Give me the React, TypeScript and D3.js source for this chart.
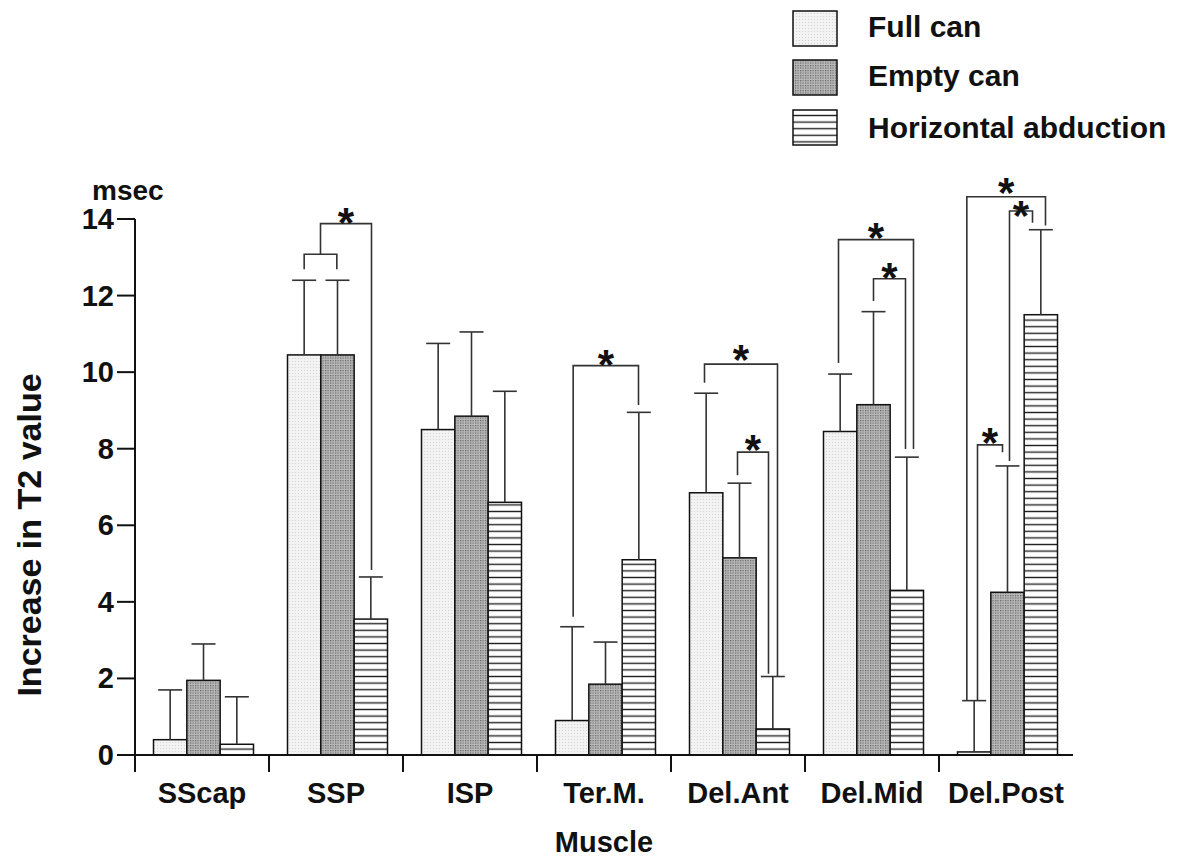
import React from "react";
import * as d3 from "d3";

const categories = ["SScap", "SSP", "ISP", "Ter.M.", "Del.Ant", "Del.Mid", "Del.Post"];
const seriesNames = ["Full can", "Empty can", "Horizontal abduction"];
const fullCan = [0.4, 10.45, 8.5, 0.9, 6.85, 8.45, 0.08];
const fullCanErr = [1.7, 12.4, 10.75, 3.35, 9.45, 9.95, 1.42];
const emptyCan = [1.95, 10.45, 8.85, 1.85, 5.15, 9.15, 4.25];
const emptyCanErr = [2.9, 12.4, 11.05, 2.95, 7.1, 11.58, 7.55];
const horizAbd = [0.28, 3.55, 6.6, 5.1, 0.68, 4.3, 11.5];
const horizAbdErr = [1.52, 4.65, 9.5, 8.95, 2.05, 7.78, 13.72];
const yTicks = [0, 2, 4, 6, 8, 10, 12, 14];

// significance brackets: category, left/right series position, top level, leg bottoms, star
const brCat = ["SSP", "SSP", "Ter.M.", "Del.Ant", "Del.Ant", "Del.Mid", "Del.Mid", "Del.Post", "Del.Post", "Del.Post"];
const brLeft = [0, 0.49, 0.03, -0.05, 0.94, -0.05, 1.0, -0.22, 1.06, 0.1];
const brRight = [0.98, 2.02, 1.99, 2.14, 1.87, 2.2, 1.96, 2.14, 1.75, 0.85];
const brTop = [13.08, 13.88, 10.17, 10.21, 7.91, 13.46, 12.44, 14.58, 14.21, 8.1];
const brLeftBottom = [12.69, 13.08, 3.61, 9.72, 7.31, 10.24, 11.86, 1.42, 7.68, 1.41];
const brRightBottom = [12.69, 4.83, 9.14, 2.06, 2.12, 7.99, 7.99, 13.83, 13.9, 7.91];
const brStarY = [null, 14.15, 10.45, 10.58, 8.23, 13.76, 12.72, 14.94, 14.34, 8.41];

const W = 1182;
const H = 860;
const FONT = "'Liberation Sans', Arial, Helvetica, sans-serif";

export default function App() {
  const x = d3.scaleBand<string>().domain(categories).range([135, 1073]).padding(0);
  const inner = d3.scaleBand<number>().domain([0, 1, 2]).range([18.5, 118.5]).padding(0);
  const y = d3.scaleLinear().domain([0, 14]).range([755, 219]);
  const barW = inner.bandwidth();
  const seriesPos = d3
    .scaleLinear()
    .domain([0, 2])
    .range([inner(0)! + barW / 2, inner(2)! + barW / 2]);

  const values = [fullCan, emptyCan, horizAbd];
  const errs = [fullCanErr, emptyCanErr, horizAbdErr];
  const fills = ["url(#pFull)", "url(#pEmpty)", "url(#pHoriz)"];

  const bars: React.ReactNode[] = [];
  const errBars: React.ReactNode[] = [];
  categories.forEach((c, ci) => {
    values.forEach((vals, si) => {
      const x0 = x(c)! + inner(si)!;
      const v = vals[ci];
      bars.push(
        <rect
          key={`b-${ci}-${si}`}
          x={x0}
          y={y(v)}
          width={barW}
          height={y(0) - y(v)}
          fill={fills[si]}
          stroke="#111"
          strokeWidth={1.5}
        />
      );
      const cx = x0 + barW / 2;
      const e = errs[si][ci];
      errBars.push(
        <g key={`e-${ci}-${si}`} stroke="#333" strokeWidth={1.6} fill="none">
          <line x1={cx} x2={cx} y1={y(v)} y2={y(e)} />
          <line x1={cx - 12} x2={cx + 12} y1={y(e)} y2={y(e)} />
        </g>
      );
    });
  });

  const brackets = brCat.map((c, i) => {
    const xl = x(c)! + seriesPos(brLeft[i]);
    const xr = x(c)! + seriesPos(brRight[i]);
    const yt = y(brTop[i]);
    const path = d3.path();
    path.moveTo(xl, y(brLeftBottom[i]));
    path.lineTo(xl, yt);
    path.lineTo(xr, yt);
    path.lineTo(xr, y(brRightBottom[i]));
    const sy = brStarY[i];
    return (
      <g key={`br-${i}`}>
        <path d={path.toString()} stroke="#333" strokeWidth={1.6} fill="none" />
        {sy !== null && (
          <text
            x={(xl + xr) / 2}
            y={y(sy) + 24}
            textAnchor="middle"
            fontSize={42}
            fontWeight="bold"
            fontFamily={FONT}
            fill="#111"
          >
            *
          </text>
        )}
      </g>
    );
  });

  const legendY = [11, 60, 110];
  const legendBaseline = [37, 86, 138];

  return (
    <svg
      width={W}
      height={H}
      style={{ position: "absolute", left: 0, top: 0, background: "#fff" }}
    >
      <defs>
        <pattern id="pFull" width={3} height={3} patternUnits="userSpaceOnUse">
          <rect width={3} height={3} fill="#f3f3f3" />
          <circle cx={1.5} cy={1.5} r={0.6} fill="#d0d0d0" />
        </pattern>
        <pattern id="pEmpty" width={2.5} height={2.5} patternUnits="userSpaceOnUse">
          <rect width={2.5} height={2.5} fill="#b8b8b8" />
          <rect width={1.2} height={1.2} fill="#666" />
        </pattern>
        <pattern id="pHoriz" width={10} height={6.6} patternUnits="userSpaceOnUse">
          <rect width={10} height={6.6} fill="#fff" />
          <line x1={0} x2={10} y1={3.3} y2={3.3} stroke="#222" strokeWidth={1.4} />
        </pattern>
      </defs>
      <rect width={W} height={H} fill="#fff" />

      {bars}
      {errBars}
      {brackets}

      {/* axes */}
      <g stroke="#111" strokeWidth={2}>
        <line x1={135} x2={135} y1={y(14)} y2={y(0) + 17} />
        <line x1={135} x2={1073} y1={y(0)} y2={y(0)} />
        {yTicks.map((t) => (
          <line key={`yt-${t}`} x1={117} x2={135} y1={y(t)} y2={y(t)} />
        ))}
        {categories.slice(1).map((c) => (
          <line key={`xt-${c}`} x1={x(c)!} x2={x(c)!} y1={y(0)} y2={y(0) + 17} />
        ))}
      </g>
      <g fontFamily={FONT} fontWeight="bold" fill="#111">
        {yTicks.map((t) => (
          <text key={`yl-${t}`} x={114} y={y(t) + 10} fontSize={29} textAnchor="end">
            {t}
          </text>
        ))}
        <text x={92} y={200} fontSize={28}>
          msec
        </text>
        {categories.map((c) => (
          <text
            key={`xl-${c}`}
            x={x(c)! + x.bandwidth() / 2}
            y={803}
            fontSize={29}
            textAnchor="middle"
          >
            {c}
          </text>
        ))}
        <text x={604} y={852} fontSize={29} textAnchor="middle">
          Muscle
        </text>
        <text
          transform={`translate(41, 535) rotate(-90)`}
          fontSize={34}
          textAnchor="middle"
        >
          Increase in T2 value
        </text>
      </g>

      {/* legend */}
      <g fontFamily={FONT} fontWeight="bold" fill="#111">
        {seriesNames.map((s, i) => (
          <g key={`lg-${i}`}>
            <rect
              x={793}
              y={legendY[i]}
              width={44}
              height={35}
              fill={fills[i]}
              stroke="#111"
              strokeWidth={1.5}
            />
            <text x={868} y={legendBaseline[i]} fontSize={30}>
              {s}
            </text>
          </g>
        ))}
      </g>
    </svg>
  );
}
